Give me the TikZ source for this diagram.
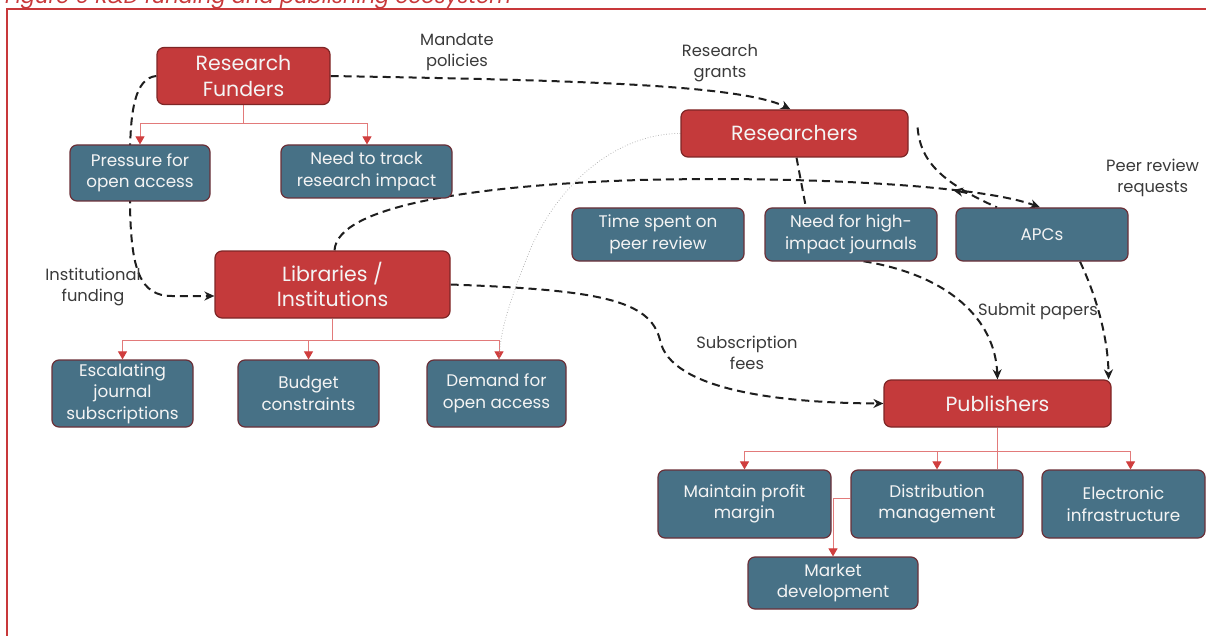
\documentclass[tikz,border=0pt]{standalone}
\usepackage{fontspec}
\setmainfont{Poppins}
\usetikzlibrary{arrows.meta,calc}
\definecolor{hubred}{HTML}{C43A3B}
\definecolor{hubedge}{HTML}{7E2626}
\definecolor{leafblue}{HTML}{477186}
\definecolor{leafedge}{HTML}{6B3038}
\definecolor{boxtext}{HTML}{F4F4F4}
\definecolor{notegray}{HTML}{3A3A3A}
\definecolor{flowblack}{HTML}{1E1E1E}
\definecolor{branchred}{HTML}{E27A7A}
\definecolor{tipred}{HTML}{D03E3E}
\definecolor{framered}{HTML}{C8383A}
\pgfdeclarelayer{paper}
\pgfdeclarelayer{links}
\pgfsetlayers{paper,links,main}
\tikzset{
  hub/.style={draw=hubedge, fill=hubred, rounded corners=7pt, line width=1.2pt,
    text=boxtext, align=center, inner sep=0pt, font=\fontsize{20.5}{25.5}\selectfont},
  leaf/.style={draw=leafedge, fill=leafblue, rounded corners=7pt, line width=1.2pt,
    text=boxtext, align=center, inner sep=0pt, font=\fontsize{16.8}{21.5}\selectfont},
  note/.style={text=notegray, align=center, inner sep=0pt, font=\fontsize{16.3}{21}\selectfont},
  flow/.style={draw=flowblack, line width=2pt, dash pattern=on 8pt off 5pt},
  flowtip/.style={-{Stealth[length=10pt,width=9pt]}},
  branch/.style={draw=branchred, line width=1pt},
  branchtip/.style={-{Triangle[length=8pt,width=9pt,color=tipred]}},
  faint/.style={draw=gray!70, line width=0.7pt, dotted}
}
\begin{document}
\begin{tikzpicture}[x=1pt,y=-1pt]
\useasboundingbox (0,0) rectangle (1206,636);
\begin{pgfonlayer}{paper}
  \fill[white] (0,0) rectangle (1206,636);
\end{pgfonlayer}
\clip (0,0) rectangle (1206,636);

% caption and frame
\node[anchor=base west, text=framered, inner sep=0pt,
  font=\itshape\fontsize{21}{21}\selectfont] (caption) at (5,4)
  {Figure 6 R\&D funding and publishing ecosystem};
\draw[framered, line width=2pt] (7,640) -- (7,9) -- (1210,9);

% main actors
\node[hub, minimum width=173pt, minimum height=57pt] (funders) at (243.5,76) {Research\\Funders};
\node[hub, minimum width=227pt, minimum height=47pt] (researchers) at (794.5,133.5) {Researchers};
\node[hub, minimum width=235pt, minimum height=67pt] (libraries) at (332.5,284.5) {Libraries /\\Institutions};
\node[hub, minimum width=227pt, minimum height=47pt] (publishers) at (997.5,403.5) {Publishers};

% issues
\node[leaf, minimum width=140pt, minimum height=56pt] (pressure) at (140,173) {Pressure for\\open access};
\node[leaf, minimum width=171pt, minimum height=53pt] (track) at (366.5,171.5) {Need to track\\research impact};
\node[leaf, minimum width=172pt, minimum height=53pt] (timespent) at (658,234.5) {Time spent on\\peer review};
\node[leaf, minimum width=172pt, minimum height=53pt] (highimpact) at (851,234.5) {Need for high-\\impact journals};
\node[leaf, minimum width=172pt, minimum height=53pt] (apcs) at (1042,234.5) {APCs};
\node[leaf, minimum width=141pt, minimum height=67pt] (escalating) at (122.5,393.5) {Escalating\\journal\\subscriptions};
\node[leaf, minimum width=141pt, minimum height=67pt] (budget) at (308.5,393.5) {Budget\\constraints};
\node[leaf, minimum width=139pt, minimum height=67pt] (demand) at (496.5,393.5) {Demand for\\open access};
\node[leaf, minimum width=173pt, minimum height=68pt] (maintain) at (744.5,504) {Maintain profit\\margin};
\node[leaf, minimum width=172pt, minimum height=68pt] (distribution) at (937,504) {Distribution\\management};
\node[leaf, minimum width=163pt, minimum height=68pt] (electronic) at (1123.5,504) {Electronic\\infrastructure};
\node[leaf, minimum width=170pt, minimum height=52pt] (market) at (833,583) {Market\\development};

% flow labels
\node[note] (lmandate) at (457,52) {Mandate\\policies};
\node[note] (lgrants) at (720,63) {Research\\grants};
\node[note, anchor=west] (lpeer) at (1106,178) {Peer review\\requests};
\node[note] (linst) at (93,287) {Institutional\\funding};
\node[note] (lsubs) at (747,353) {Subscription\\fees};
\node[note] (lsubmit) at (1038,311) {Submit papers};

\coordinate (prq) at (953,190);
\coordinate (fj) at (243.5,124);
\coordinate (lj) at (332.5,340);
\coordinate (pj) at (997.5,451);

\begin{pgfonlayer}{links}
  % hierarchy branches
  \draw[branch] (funders.south) -- (fj);
  \draw[branch, branchtip] (fj) -| (pressure.north);
  \draw[branch, branchtip] (fj) -| ($(track.north)+(0.5,0)$);
  \draw[branch] (libraries.south) -- (lj);
  \draw[branch, branchtip] (lj) -| (escalating.north);
  \draw[branch, branchtip] (lj) -| (budget.north);
  \draw[branch, branchtip] (lj) -| ($(demand.north)+(2.5,0)$);
  \draw[branch] (publishers.south) -- (pj);
  \draw[branch, branchtip] (pj) -| (maintain.north);
  \draw[branch, branchtip] (pj) -| (distribution.north);
  \draw[branch, branchtip] (pj) -| ($(electronic.north)+(7,0)$);
  \draw[branch] (pj) -- ($(distribution.north)+(60.5,0)$);
  \draw[branch, branchtip] ($(distribution.west)+(0,-6)$) -| (market.north);

  % money and paper flows
  \draw[flow, flowtip] (funders.east) .. controls (560,80) and (740,84) .. ($(researchers.north)+(-4,0)$);
  \draw[flow, flowtip] (funders.west) .. controls (135,78) and (130,110) .. (130,160) -- (130,205)
     .. controls (131,270) and (140,296) .. (172,296) -- ($(libraries.west)+(0,11.5)$);
  \draw[flow, flowtip] ($(libraries.north)+(2,0)$) .. controls (337,205) and (480,185) .. (640,180)
     .. controls (800,176) and (980,185) .. ($(apcs.north)+(-2,0)$);
  \draw[flow] ($(researchers.east)+(9,-6)$) .. controls (920,160) and (940,182) .. ($(apcs.north)+(-45,0)$);
  \draw[flow, flowtip] ($(prq)+(14,3)$) -- (prq);
  \draw[flow, flowtip] ($(researchers.south)+(2,0)$) -- (806,208) -- (862,261)
     .. controls (950,275) and (995,320) .. (publishers.north);
  \draw[flow, flowtip] ($(apcs.south)+(38,0)$) .. controls (1098,300) and (1108,340) .. ($(publishers.north east)+(-3,0)$);
  \draw[flow, flowtip] (libraries.east) .. controls (600,290) and (650,300) .. (660,340)
     .. controls (670,390) and (780,403) .. (publishers.west);
  \draw[faint] (researchers.west) .. controls (620,133) and (560,180) .. (530,250)
     .. controls (510,300) and (500,330) .. ($(demand.north)+(2.5,0)$);
\end{pgfonlayer}
\end{tikzpicture}
\end{document}
